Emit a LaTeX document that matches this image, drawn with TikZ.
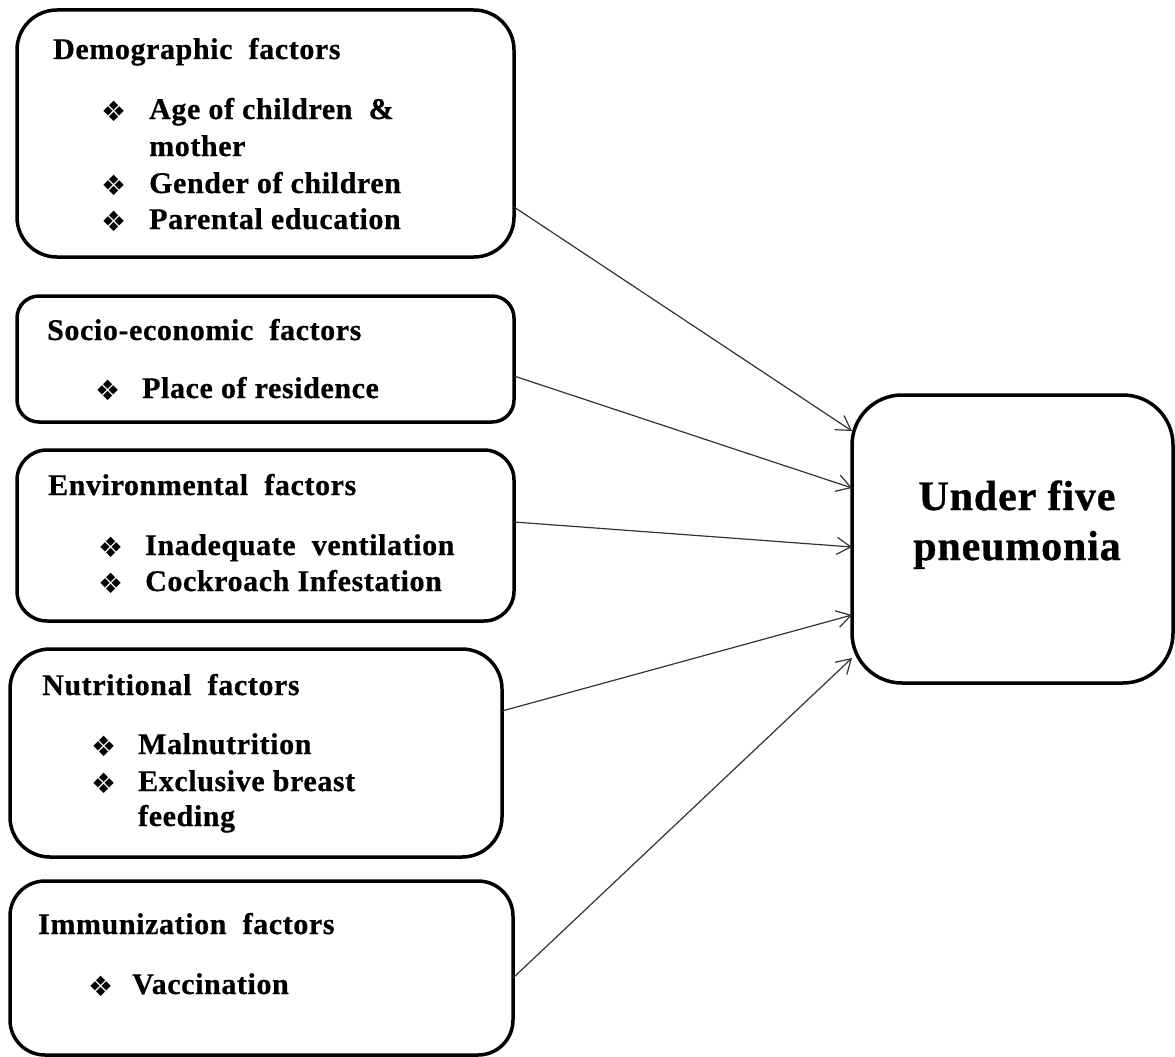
\documentclass[tikz,border=0pt]{standalone}
\usepackage{fontspec}
\setmainfont{Liberation Serif}
\newfontfamily\bodyfont[LetterSpace=2, BoldFeatures={FakeBold=0.6}]{Liberation Serif}
\newfontfamily\bigfont[LetterSpace=2, BoldFeatures={FakeBold=0.8}]{Liberation Serif}
\newfontfamily\symfont{DejaVu Sans}
\usetikzlibrary{arrows.meta}
\tikzset{
  box/.style={draw=black, line width=3.5pt, inner sep=0pt, outer sep=0pt},
  txt/.style={anchor=base west, inner sep=0pt, font=\bodyfont\bfseries\fontsize{30}{36}\selectfont},
  bul/.style={anchor=base west, inner sep=0pt, font=\symfont\fontsize{28}{32}\selectfont},
  bigtxt/.style={anchor=base, inner sep=0pt, font=\bigfont\bfseries\fontsize{42}{50}\selectfont},
  arr/.style={draw=black!80, line width=1.2pt, -{Straight Barb[length=14pt,width=17pt,line width=1.2pt]}},
}
\begin{document}
\begin{tikzpicture}[x=1pt,y=-1pt]
\useasboundingbox (0,0) rectangle (1175,1057);

% boxes
\node[box, rounded corners=40pt, minimum width=497pt, minimum height=247pt] (b1) at (265.5,133.5) {};
\node[box, rounded corners=22pt, minimum width=497pt, minimum height=126pt] (b2) at (265.5,359) {};
\node[box, rounded corners=30pt, minimum width=497pt, minimum height=171pt] (b3) at (265.5,535.5) {};
\node[box, rounded corners=40pt, minimum width=492pt, minimum height=208pt] (b4) at (256,753) {};
\node[box, rounded corners=35pt, minimum width=503pt, minimum height=174pt] (b5) at (261.5,968) {};
\node[box, rounded corners=50pt, minimum width=321pt, minimum height=288pt] (big) at (1012.5,539) {};

% box 1
\node[txt] (h1) at (53,59) {Demographic\ \ factors};
\node[bul] (p11) at (101,121) {❖};
\node[txt] (t11) at (149,119) {Age of children\ \ \&};
\node[txt] (t11b) at (149,156) {mother};
\node[bul] (p12) at (101,195) {❖};
\node[txt] (t12) at (149,193) {Gender of children};
\node[bul] (p13) at (101,231) {❖};
\node[txt] (t13) at (149,229) {Parental education};

% box 2
\node[txt] (h2) at (47,340) {Socio-economic\ \ factors};
\node[bul] (p21) at (95,400) {❖};
\node[txt] (t21) at (142,398) {Place of residence};

% box 3
\node[txt] (h3) at (48,495) {Environmental\ \ factors};
\node[bul] (p31) at (98,557) {❖};
\node[txt] (t31) at (145,555) {Inadequate\ \ ventilation};
\node[bul] (p32) at (98,593) {❖};
\node[txt] (t32) at (145,591) {Cockroach Infestation};

% box 4
\node[txt] (h4) at (42,695) {Nutritional\ \ factors};
\node[bul] (p41) at (91,756) {❖};
\node[txt] (t41) at (138,754) {Malnutrition};
\node[bul] (p42) at (91,793) {❖};
\node[txt] (t42) at (138,791) {Exclusive breast};
\node[txt] (t42b) at (138,826) {feeding};

% box 5
\node[txt] (h5) at (38,934) {Immunization\ \ factors};
\node[bul] (p51) at (88,996) {❖};
\node[txt] (t51) at (132,994) {Vaccination};

% big box text
\node[bigtxt] (u1) at (1017,510) {Under five};
\node[bigtxt] (u2) at (1017,560) {pneumonia};

% arrows
\draw[arr] ([yshift=-73.5pt]b1.east) -- ([yshift=108pt]big.west);
\draw[arr] ([yshift=-17pt]b2.east) -- ([yshift=51pt]big.west);
\draw[arr] ([yshift=13.5pt]b3.east) -- ([yshift=-8pt]big.west);
\draw[arr] ([yshift=42pt]b4.east) -- ([yshift=-76pt]big.west);
\draw[arr] ([yshift=-10pt]b5.east) -- ([yshift=-119pt]big.west);
\end{tikzpicture}
\end{document}
